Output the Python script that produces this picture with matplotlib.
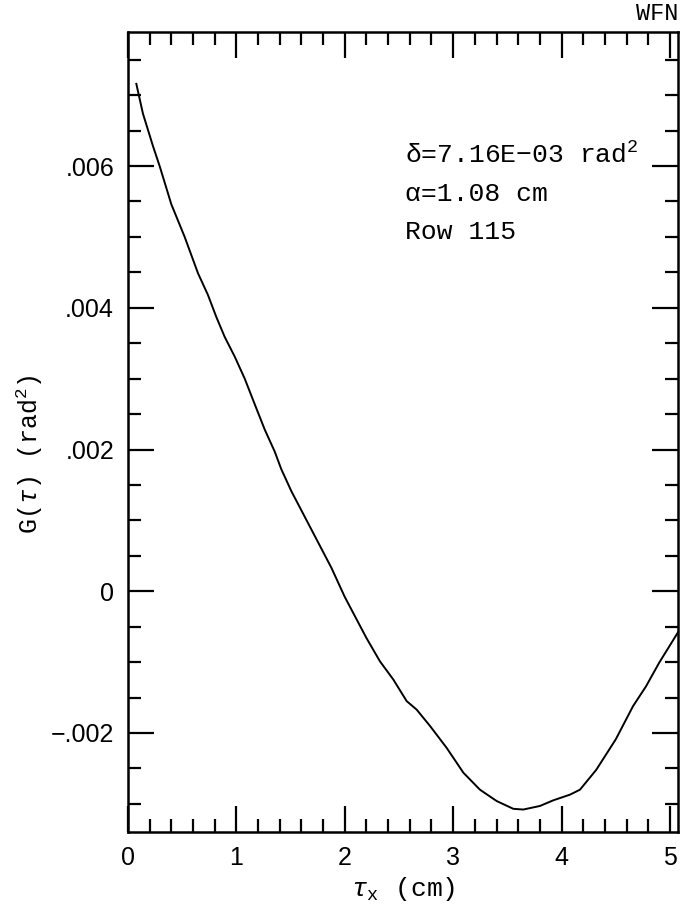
import numpy as np
import matplotlib
matplotlib.use("Agg")
import matplotlib.pyplot as plt
from matplotlib.ticker import MultipleLocator, FixedFormatter, FixedLocator

plt.rcParams['mathtext.fontset'] = 'custom'
plt.rcParams['mathtext.rm'] = 'Liberation Mono'
plt.rcParams['mathtext.it'] = 'Liberation Mono:italic'
plt.rcParams['mathtext.bf'] = 'Liberation Mono:bold'

# structure function G(tau) for row 115
tau = [0.077, 0.138, 0.231, 0.292, 0.40, 0.523, 0.646, 0.738, 0.815, 0.892,
       0.985, 1.077, 1.169, 1.262, 1.354, 1.415, 1.508, 1.631, 1.754, 1.877,
       2.0, 2.1, 2.2, 2.325, 2.448, 2.571, 2.663, 2.786, 2.94, 3.094,
       3.247, 3.401, 3.555, 3.647, 3.8, 3.924, 4.078, 4.17, 4.32, 4.5,
       4.66, 4.78, 4.9, 5.074]
G = [0.00716, 0.00674, 0.00628, 0.00600, 0.00546, 0.00500, 0.004487, 0.00418, 0.00387, 0.00359,
     0.00331, 0.00300, 0.00264, 0.00228, 0.00197, 0.00172, 0.00141, 0.00105, 0.00069, 0.00033,
     -0.00008, -0.00037, -0.00066, -0.00099, -0.001246, -0.00155, -0.00167, -0.00190, -0.00221, -0.00256,
     -0.00280, -0.00296, -0.00307, -0.00308, -0.00303, -0.00295, -0.00287, -0.00280, -0.00252, -0.00209,
     -0.00162, -0.00134, -0.00101, -0.00058]

yticks = [-0.002, 0.0, 0.002, 0.004, 0.006]
ylabels = ['\u2212.002', '0', '.002', '.004', '.006']
xticks = [0, 1, 2, 3, 4, 5]

fig = plt.figure(figsize=(6.94, 9.07), dpi=100)
ax = fig.add_axes([0.1844, 0.0827, 0.7925, 0.882])

ax.plot(tau, G, color='black', lw=1.4)

ax.set_xlim(0, 5.074)
ax.set_ylim(-0.003397, 0.007891)

ax.xaxis.set_major_locator(FixedLocator(xticks))
ax.xaxis.set_minor_locator(MultipleLocator(0.2))
ax.yaxis.set_major_locator(FixedLocator(yticks))
ax.yaxis.set_major_formatter(FixedFormatter(ylabels))
ax.yaxis.set_minor_locator(MultipleLocator(0.0005))

ax.tick_params(which='both', direction='in', top=True, right=True,
               width=1.6, colors='black')
ax.tick_params(which='major', length=19, pad=10)
ax.tick_params(which='minor', length=9.5)
for lab in ax.get_xticklabels() + ax.get_yticklabels():
    lab.set_family('Liberation Sans')
    lab.set_fontsize(18)
for s in ax.spines.values():
    s.set_linewidth(1.8)

ax.set_xlabel(r'$\tau_{\rm x}$ (cm)', fontsize=19, family='Liberation Mono', labelpad=4)
ax.set_ylabel(r'G($\tau$) (rad$^{\rm 2}$)', fontsize=18, family='Liberation Mono')
ax.yaxis.set_label_coords(-0.15, 0.4725)

txt_kw = dict(transform=ax.transAxes, fontsize=19, family='Liberation Mono', va='center')
ax.text(0.504, 0.846, '\u03b4=7.16E\u221203 rad$^{\\rm 2}$', **txt_kw)
ax.text(0.504, 0.7975, '\u03b1=1.08 cm', **txt_kw)
ax.text(0.504, 0.75, 'Row 115', **txt_kw)

fig.text(0.977, 0.985, 'WFN', ha='right', va='center', fontsize=17, family='Liberation Mono')

fig.savefig('out.png', dpi=100)
